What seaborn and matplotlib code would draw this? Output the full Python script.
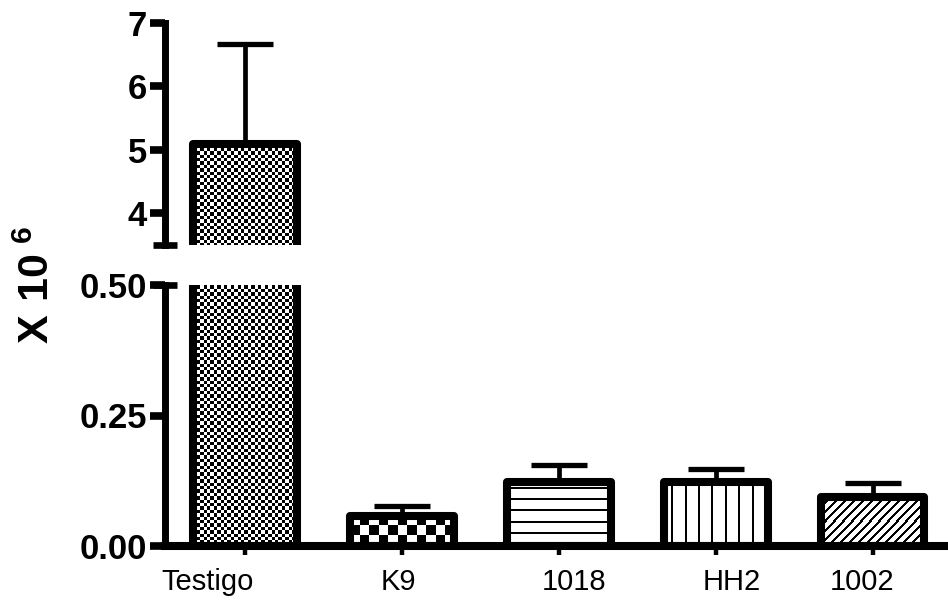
import numpy as np
import pandas as pd
import matplotlib
matplotlib.use("Agg")
import matplotlib.pyplot as plt
import seaborn as sns
from matplotlib.transforms import ScaledTranslation

# ---- data ----
categories = ["Testigo", "K9", "1018", "HH2", "1002"]
means = [5.09, 0.058, 0.123, 0.123, 0.094]
upper = [6.67, 0.077, 0.155, 0.148, 0.121]
top_ticks = [4, 5, 6, 7]
bottom_ticks = [0.00, 0.25, 0.50]
top_lim = (3.5, 7.0)
bottom_lim = (0.0, 0.5)

# ---- styles ----
# fill texture per bar: (kind, period_px, thickness_px)
fills = [("checker", 3.4, 0), ("checker", 9.5, 0), ("hlines", 11.0, 2.0),
         ("vlines", 13.4, 2.0), ("diag", 9.0, 2.3)]
label_dx = [-37, -4, 15, 16, -11]  # pixels
XLIM = (-0.51, 4.48)

sns.set_theme(style="ticks")
plt.rcParams['font.family'] = ['Liberation Sans', 'DejaVu Sans']
plt.rcParams['mathtext.fontset'] = 'custom'
plt.rcParams['mathtext.bf'] = 'Liberation Sans:bold'
plt.rcParams['mathtext.rm'] = 'Liberation Sans'
for k in ('axes.edgecolor', 'text.color', 'xtick.color', 'ytick.color', 'axes.labelcolor'):
    plt.rcParams[k] = 'black'

df = pd.DataFrame({"group": categories, "value": means})

fig = plt.figure(figsize=(9.48, 6.05), dpi=100)
L = 165 / 948
W = 1 - L
ax_top = fig.add_axes([L, 360 / 605, W, 222 / 605])
ax_bot = fig.add_axes([L, 59 / 605, W, 261 / 605])


def texture(kind, ny, nx, period, thick):
    i = np.arange(ny)[:, None]
    j = np.arange(nx)[None, :]
    if kind == "checker":
        return ((np.floor(i / period) + np.floor(j / period)) % 2).astype(float)
    if kind == "hlines":
        return (((i + period / 2) % period) < thick).astype(float) * np.ones((1, nx))
    if kind == "vlines":
        return (((j + period / 2) % period) < thick).astype(float) * np.ones((ny, 1))
    return (((i + j) % period) < thick).astype(float)


def add_texture(ax, patch, spec):
    kind, period, thick = spec
    x0 = patch.get_x()
    x1 = x0 + patch.get_width()
    y0, y1 = ax.get_ylim()
    ylo = max(patch.get_y(), y0)
    yhi = min(patch.get_y() + patch.get_height(), y1)
    if yhi <= ylo:
        return
    px0, py0 = ax.transData.transform((x0, ylo))
    px1, py1 = ax.transData.transform((x1, yhi))
    nx = max(1, int(round(px1 - px0)))
    ny = max(1, int(round(py1 - py0)))
    arr = texture(kind, ny, nx, period, thick)
    im = ax.imshow(arr, extent=(x0, x1, ylo, yhi), origin='upper', cmap='gray_r',
                   vmin=0, vmax=1, interpolation='nearest', aspect='auto', zorder=2)
    im.set_clip_path(patch)


for ax, ylim in ((ax_top, top_lim), (ax_bot, bottom_lim)):
    sns.barplot(data=df, x="group", y="value", order=categories, color="white",
                saturation=1, edgecolor="black", linewidth=5.8, width=0.66,
                errorbar=None, ax=ax)
    ax.set_xlim(*XLIM)
    ax.set_ylim(*ylim)
    patches = list(ax.patches)[:len(categories)]
    for p in patches:
        p.set_edgecolor("black")
        p.set_facecolor("none")
        p.set_joinstyle("round")
        p.set_zorder(3)
    for i, p in enumerate(patches):
        add_texture(ax, p, fills[i])
    for i in range(len(categories)):
        ax.errorbar(i, means[i], yerr=[[0], [upper[i] - means[i]]], fmt='none',
                    ecolor='black', elinewidth=3.4, capsize=20,
                    capthick=3.8, zorder=2.5)
    ax.set_xlim(*XLIM)
    ax.set_ylim(*ylim)
    ax.set_xlabel("")
    ax.set_ylabel("")
    ax.spines['top'].set_visible(False)
    ax.spines['right'].set_visible(False)
    ax.spines['left'].set_linewidth(5)
    ax.spines['left'].set_capstyle('projecting')
    ax.tick_params(axis='y', length=11, width=5.5, direction='out', labelsize=25,
                   pad=2, color='black', labelcolor='black')

# top axes
ax_top.spines['bottom'].set_visible(False)
ax_top.tick_params(axis='x', bottom=False, labelbottom=False)
ax_top.set_yticks(top_ticks)
ax_top.set_yticklabels([f"{t:d}" for t in top_ticks])
for lbl in ax_top.get_yticklabels():
    lbl.set_fontweight('bold')
ax_top.plot([0], [top_lim[0]], marker='_', ms=17, mew=4.8, color='black',
            transform=ax_top.get_yaxis_transform(), clip_on=False)

# bottom axes
ax_bot.set_yticks(bottom_ticks)
ax_bot.set_yticklabels([f"{t:.2f}" for t in bottom_ticks])
for lbl in ax_bot.get_yticklabels():
    lbl.set_fontweight('bold')
ax_bot.spines['bottom'].set_linewidth(5.8)
ax_bot.spines['bottom'].set_capstyle('projecting')
ax_bot.tick_params(axis='x', length=6.5, width=3.2, direction='out', labelsize=21,
                   pad=9.5, color='black', labelcolor='black')
ax_bot.plot([0], [bottom_lim[1]], marker='_', ms=17, mew=4.8, color='black',
            transform=ax_bot.get_yaxis_transform(), clip_on=False)
for lbl, dx in zip(ax_bot.get_xticklabels(), label_dx):
    lbl.set_transform(lbl.get_transform() + ScaledTranslation(dx / 100, 0, fig.dpi_scale_trans))

fig.text(38 / 948, 1 - 285 / 605, r'$\mathbf{X\ 10}^{\mathbf{\ 6}}$', rotation=90,
         fontsize=31, ha='center', va='center', color='black')

fig.savefig("out.png", dpi=100)
